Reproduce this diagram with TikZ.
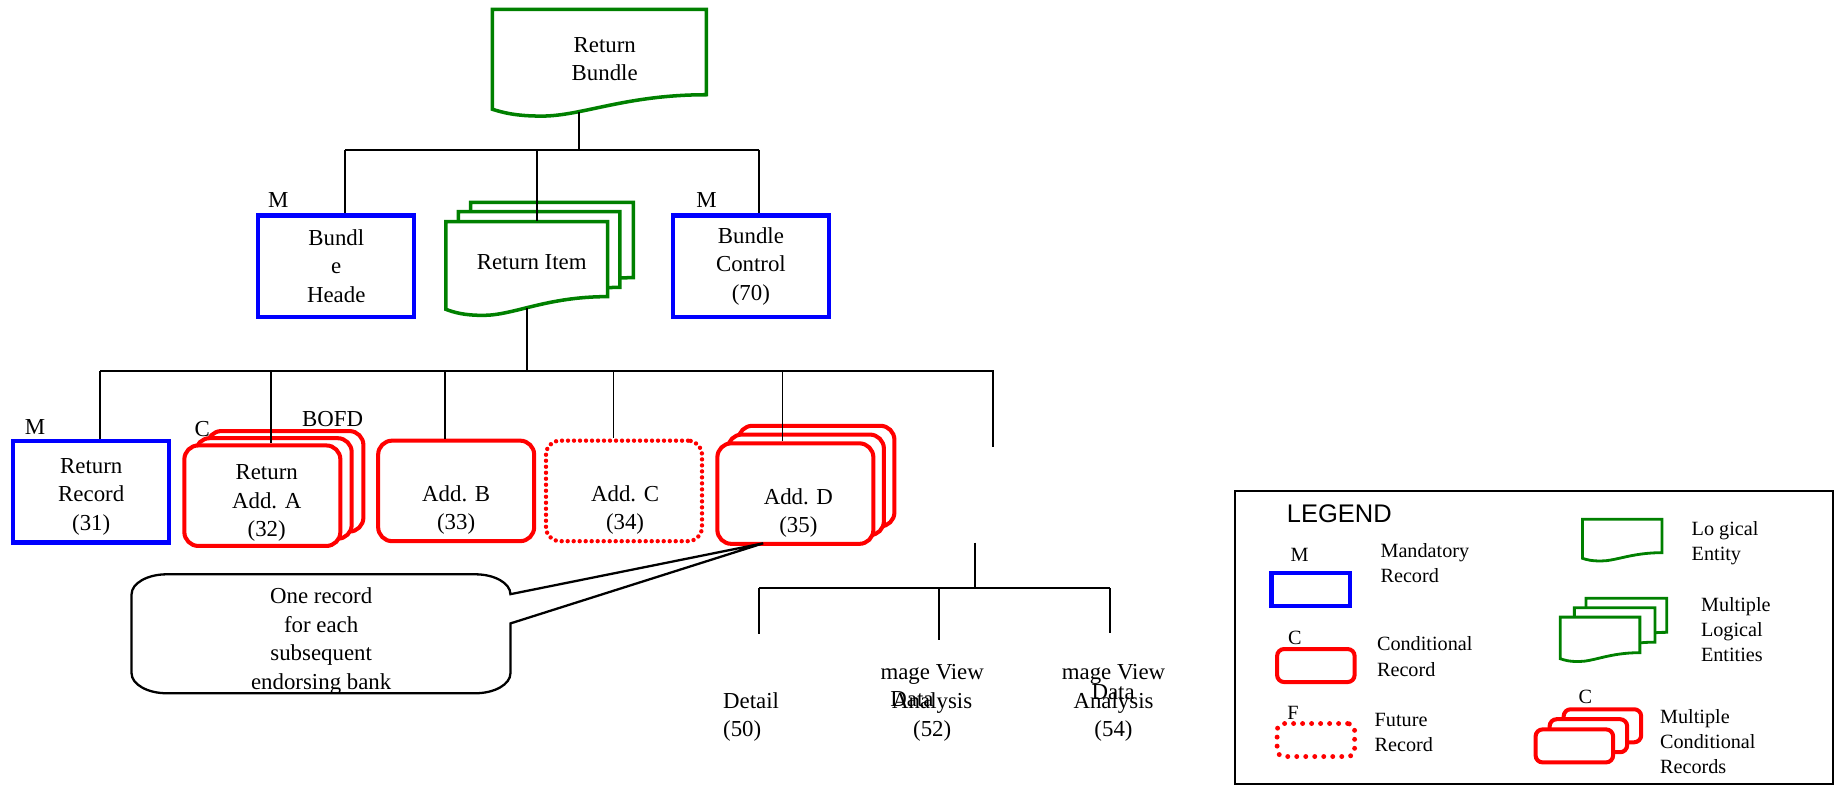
\documentclass[tikz,border=0pt]{standalone}
\usepackage{fontspec}
\setmainfont{Liberation Serif}
\newfontfamily\legendsans{Liberation Sans}
\usetikzlibrary{fit}
\definecolor{docgreen}{RGB}{0,128,0}

% logical entity: name, style, top left x/y, bottom right x/y (right side)
\newcommand{\docshape}[6]{%
  \node[fit={(#3,#4) (#5,#6)}, inner sep=0pt] (#1) {};
  \draw[#2] (#3,#4) -- (#5,#4) -- (#5,#6)
    .. controls ({#3+0.62*(#5-#3)},#6) and ({#3+0.42*(#5-#3)},{#6+0.25*(#6-#4)})
    .. ({#3+0.23*(#5-#3)},{#6+0.25*(#6-#4)})
    .. controls ({#3+0.11*(#5-#3)},{#6+0.25*(#6-#4)}) and ({#3+0.05*(#5-#3)},{#6+0.21*(#6-#4)})
    .. (#3,{#6+0.17*(#6-#4)}) -- cycle;}

\begin{document}
\begin{tikzpicture}[x=0.2339mm, y=-0.2339mm]
    \tikzstyle{every node}=[font={\fontsize{13pt}{16.2pt}\selectfont}, align=center, inner sep=1pt]
    \tikzstyle{edge}=[black, line width=1.1pt]
    \tikzstyle{mand}=[draw=blue, line width=2.5pt, minimum width=31.2mm, minimum height=20.3mm]
    \tikzstyle{cond}=[draw=red, fill=white, line width=2.3pt, rounded corners=2.8mm, minimum width=31.2mm, minimum height=20.1mm]
    \tikzstyle{future}=[cond, line width=2.5pt, dash pattern=on 0pt off 1.2mm, line cap=round]
    \tikzstyle{logical}=[draw=docgreen, fill=white, line width=2pt]

    \useasboundingbox (0,0) rectangle (1568,671);

    % top level
    \docshape{rbundle}{logical}{421}{8}{604}{81}
    \node (rbtext) at (517,50.5) {Return\\Bundle};

    \docshape{ritem3}{logical}{402.4}{173}{541.5}{237.4}
    \docshape{ritem2}{logical}{391.9}{181}{530}{245.7}
    \docshape{ritem}{logical}{381.3}{189.5}{519.5}{253.6}
    \node (ritext) at (454.6,223.7) {Return Item};

    \node[mand] (bhead) at (287.5,227.5) {Bundl\\e\\Heade};
    \node[mand] (bctrl) at (642,227.5) {Bundle\\Control\\(70)};
    \node (mhead) at (238,171) {M};
    \node (mctrl) at (604,171) {M};

    % records
    \node[mand] (rrec) at (78,420.5) {};
    \node (rrectxt) at (78,424.5) {Return\\Record\\(31)};
    \node[cond] (adda3) at (244,411.5) {};
    \node[cond] (adda2) at (234,417.6) {};
    \node[cond] (adda) at (224.3,423.8) {};
    \node (addatxt) at (228,430) {Return\\Add. A\\(32)};
    \node[cond] (addb) at (390,419.7) {};
    \node (addbtxt) at (390,436) {Add. B\\(33)};
    \node[future] (addc) at (533.5,419.7) {};
    \node (addctxt) at (534.4,436) {Add. C\\(34)};
    \node[cond] (addd3) at (698,407) {};
    \node[cond] (addd2) at (689,414.5) {};
    \node[cond] (addd) at (680,422) {};
    \node (adddtxt) at (682.6,438.5) {Add. D\\(35)};
    \node (mrec) at (30,365.4) {M};
    \node (ca) at (173,367) {C};
    \node (bofd) at (284.3,358.5) {BOFD};

    % tree lines
    \coordinate (rbfoot) at (495,96);
    \coordinate (bus1) at (495,128);
    \coordinate (bus1l) at (295,128);
    \coordinate (bus1m) at (459.5,128);
    \coordinate (bus1r) at (649,128);
    \draw[edge] (rbfoot) -- (bus1);
    \draw[edge] (bus1l) -- (bus1r);
    \draw[edge] (bus1l) -- (bus1l |- bhead.north);
    \draw[edge] (bus1m) -- (bus1m |- ritem.north);
    \draw[edge] (bus1r) -- (bus1r |- bctrl.north);

    \coordinate (rifoot) at (450.3,263);
    \coordinate (bus2) at (450.3,317);
    \coordinate (bus2l) at (85.7,317);
    \coordinate (bus2r) at (849,317);
    \coordinate (bus2a) at (232,317);
    \coordinate (bus2b) at (380.6,317);
    \coordinate (bus2c) at (524.5,317);
    \coordinate (bus2d) at (669,317);
    \coordinate (bus2end) at (849,382);
    \draw[edge] (rifoot) -- (bus2);
    \draw[edge] (bus2l) -- (bus2r) -- (bus2end);
    \draw[edge] (bus2l) -- (bus2l |- rrec.north);
    \draw[edge] (bus2a) -- (bus2a |- adda.north);
    \draw[edge] (bus2b) -- (bus2b |- addb.north);
    \draw[edge] (bus2c) -- (bus2c |- addc.north);
    \draw[edge] (bus2d) -- (bus2d |- addd.north);

    \coordinate (sub0) at (833.4,464);
    \coordinate (sub1) at (833.4,503);
    \coordinate (subl) at (649,503);
    \coordinate (subm) at (803,503);
    \coordinate (subr) at (949,503);
    \draw[edge] (sub0) -- (sub1);
    \draw[edge] (subl) -- (subr);
    \draw[edge] (subl) -- (649,542);
    \draw[edge] (subm) -- (803,547);
    \draw[edge] (subr) -- (949,541);

    \node[anchor=west, align=left, inner sep=0pt] (det) at (618,613) {Detail\\(50)};
    \node[inner sep=0pt] (img52) at (797,601) {mage View\\Analysis\\(52)};
    \node[anchor=west, inner sep=0pt] (dat52) at (761,598) {Data};
    \node[inner sep=0pt] (img54) at (952,601) {mage View\\Analysis\\(54)};
    \node[inner sep=0pt] (dat54) at (951.7,592) {Data};

    % note
    \coordinate (tip) at (652.5,464.5);
    \draw[black, line width=1.3pt] (436.4,508) -- (tip) -- (436.4,533) -- (436.4,575.7)
        .. controls (436.4,585) and (423,592.7) .. (406.4,592.7) -- (142.5,592.7)
        .. controls (126,592.7) and (112.5,585) .. (112.5,575.7) -- (112.5,508)
        .. controls (112.5,498.7) and (126,491) .. (142.5,491) -- (406.4,491)
        .. controls (423,491) and (436.4,498.7) .. (436.4,508) -- cycle;
    \node (note) at (274.6,548) {One record\\for each\\subsequent\\endorsing bank};

    % legend
    \node[draw=black, line width=1.2pt, fit={(1056,420) (1567,670)}, inner sep=0pt] (legend) {};
    \tikzstyle{every node}=[font={\fontsize{11.5pt}{14.3pt}\selectfont}, align=left, inner sep=0pt]
    \tikzstyle{legbox}=[minimum width=15.5mm, minimum height=6.6mm, rounded corners=1.4mm]
    \node[font={\legendsans\fontsize{14.5pt}{17pt}\selectfont}] (legtitle) at (1145,439.5) {LEGEND};

    \node (lm) at (1111,474.5) {M};
    \node[mand, minimum width=15.7mm, minimum height=6.6mm] (lmand) at (1120.5,504) {};
    \node[anchor=west] (lmandtxt) at (1180,481.5) {Mandatory\\Record};

    \node (lc) at (1107,545.6) {C};
    \node[cond, legbox] (lcond) at (1125,569) {};
    \node[anchor=west] (lcondtxt) at (1177,561.4) {Conditional\\Record};

    \node (lf) at (1105.5,609.8) {F};
    \node[future, legbox, line width=2.8pt, dash pattern=on 0pt off 1.8mm] (lfut) at (1125,632.7) {};
    \node[anchor=west] (lfuttxt) at (1175,626) {Future\\Record};

    \docshape{llog}{logical, line width=1.6pt}{1353}{444}{1421}{472.5}
    \node[anchor=west] (llogtxt) at (1446,464.5) {Lo gical\\Entity};

    \docshape{lmulti3}{logical, line width=1.6pt}{1356}{511.5}{1425}{540.6}
    \docshape{lmulti2}{logical, line width=1.6pt}{1346}{519.6}{1415}{549}
    \docshape{lmulti}{logical, line width=1.6pt}{1334}{527.6}{1402}{558}
    \node[anchor=west] (lmultitxt) at (1454,538.4) {Multiple\\Logical\\Entities};

    \node (lmc) at (1355.5,596) {C};
    \node[cond, legbox] (lmcond3) at (1370,620.5) {};
    \node[cond, legbox] (lmcond2) at (1358,629) {};
    \node[cond, legbox] (lmcond) at (1346,637.7) {};
    \node[anchor=west] (lmcondtxt) at (1419,634.2) {Multiple\\Conditional\\Records};
\end{tikzpicture}
\end{document}
